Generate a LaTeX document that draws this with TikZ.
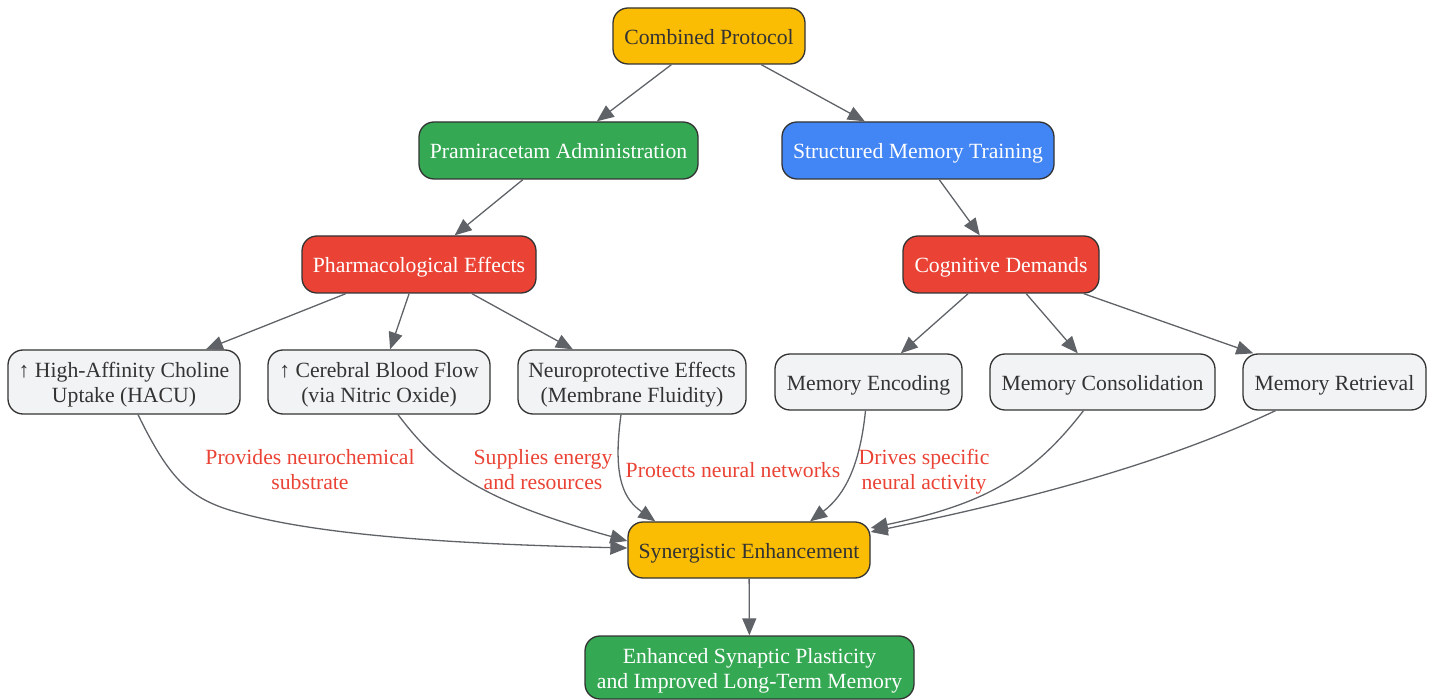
\documentclass[tikz,border=0pt]{standalone}
\usepackage{fontspec}
\setmainfont{Liberation Serif}
\usetikzlibrary{arrows.meta}
\definecolor{cyellow}{HTML}{FBBC04}
\definecolor{cgreen}{HTML}{34A853}
\definecolor{cblue}{HTML}{4285F4}
\definecolor{cred}{HTML}{EA4335}
\definecolor{clight}{HTML}{F1F3F4}
\definecolor{cborder}{HTML}{333333}
\definecolor{cedge}{HTML}{5F6368}
\definecolor{clabel}{HTML}{EA4335}
\newcommand{\topstrut}{\rule{0pt}{23pt}}
\newcommand{\toptwostrut}{\rule{0pt}{47pt}}
\newcommand{\botstrut}{\rule[-6pt]{0pt}{6pt}}
\tikzset{
  txt/.style={align=center, font=\fontsize{21.7}{25}\selectfont,
    execute at begin node=\topstrut, execute at end node=\botstrut},
  twoline/.style={execute at begin node=\toptwostrut},
  box/.style={txt, draw=cborder, line width=1.3pt, rounded corners=15pt, inner sep=0pt},
  ybox/.style={box, fill=cyellow, text=cborder},
  gbox/.style={box, fill=cgreen, text=white},
  bbox/.style={box, fill=cblue, text=white},
  rbox/.style={box, fill=cred, text=white},
  lbox/.style={box, fill=clight, text=cborder},
  conn/.style={draw=cedge, line width=1.3pt, -{Triangle[length=17pt,width=14pt]}},
  elabel/.style={txt, text=clabel, inner sep=0pt}
}
\begin{document}
\begin{tikzpicture}[x=1pt,y=-1pt]
\useasboundingbox (0,0) rectangle (1436,700);
% nodes
\node[ybox, minimum width=192, minimum height=56] (cp) at (709,36) {Combined Protocol};
\node[gbox, minimum width=279, minimum height=57] (pa) at (558.5,150.5) {Pramiracetam Administration};
\node[bbox, minimum width=272, minimum height=57] (smt) at (918,150.5) {Structured Memory Training};
\node[rbox, minimum width=234, minimum height=57] (pe) at (419,264.5) {Pharmacological Effects};
\node[rbox, minimum width=196, minimum height=57] (cd) at (1001,264.5) {Cognitive Demands};
\node[lbox, twoline, minimum width=232, minimum height=64] (hacu) at (124,382) {\char"2191\ High-Affinity Choline\\Uptake (HACU)};
\node[lbox, twoline, minimum width=222, minimum height=64] (cbf) at (379,382) {\char"2191\ Cerebral Blood Flow\\(via Nitric Oxide)};
\node[lbox, twoline, minimum width=228, minimum height=64] (ne) at (632,382) {Neuroprotective Effects\\(Membrane Fluidity)};
\node[lbox, minimum width=187, minimum height=56] (me) at (868.5,382) {Memory Encoding};
\node[lbox, minimum width=225, minimum height=56] (mc) at (1102.5,382) {Memory Consolidation};
\node[lbox, minimum width=183, minimum height=56] (mr) at (1334.5,382) {Memory Retrieval};
\node[ybox, minimum width=242, minimum height=56] (se) at (749,550) {Synergistic Enhancement};
\node[gbox, twoline, minimum width=329, minimum height=63] (esp) at (749.5,667.5) {Enhanced Synaptic Plasticity\\and Improved Long-Term Memory};
% straight connectors
\draw[conn] (cp) -- (pa);
\draw[conn] (cp) -- (smt);
\draw[conn] (pa) -- (pe);
\draw[conn] (smt) -- (cd);
\draw[conn] (pe) -- (hacu);
\draw[conn] (pe) -- (cbf);
\draw[conn] (pe) -- (ne);
\draw[conn] (cd) -- (me);
\draw[conn] (cd) -- (mc);
\draw[conn] (cd) -- (mr);
\draw[conn] (se) -- (esp);
% curved connectors
\draw[conn] ([xshift=14pt]hacu.south) .. controls (170,480) and (190,500) .. (240,513)
  .. controls (320,535) and (450,544) .. ([yshift=2pt]se.west);
\draw[conn] ([xshift=19pt]cbf.south) .. controls (440,470) and (480,500) .. ([yshift=9pt]se.west);
\draw[conn] ([xshift=-11pt]ne.south) .. controls (612,480) and (625,500) .. ([xshift=28pt]se.north west);
\draw[conn] ([xshift=-3pt]me.south) .. controls (860,465) and (845,495) .. ([xshift=61pt]se.north);
\draw[conn] ([xshift=-19pt]mc.south) .. controls (1030,480) and (980,505) .. ([yshift=22pt]se.east);
\draw[conn] ([xshift=-59pt]mr.south) .. controls (1150,470) and (1000,505) .. ([yshift=18pt]se.east);
% labels
\node[elabel, twoline] (l1) at (310,469.5) {Provides neurochemical\\substrate};
\node[elabel, twoline] (l2) at (543,469.5) {Supplies energy\\and resources};
\node[elabel] (l3) at (733,469.5) {Protects neural networks};
\node[elabel, twoline] (l4) at (924,469.5) {Drives specific\\neural activity};
\end{tikzpicture}
\end{document}
